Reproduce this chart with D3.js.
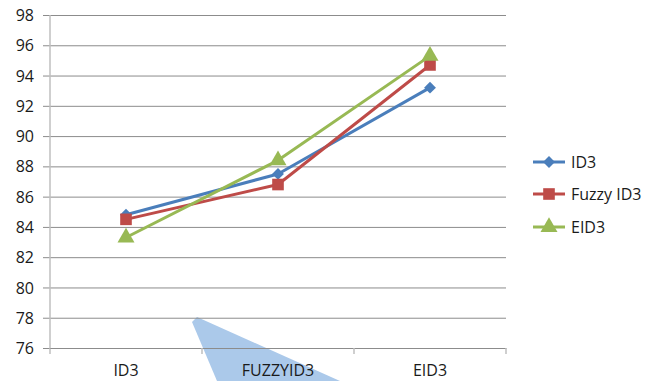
<!DOCTYPE html>
<html>
<head>
<meta charset="utf-8">
<script src="https://cdn.jsdelivr.net/npm/d3@7"></script>
<style>
  html, body { margin: 0; padding: 0; background: #fff; }
  svg { display: block; }
  text { font-family: "Open Sans", "Liberation Sans", Arial, sans-serif; fill: #1a1a1a; }
</style>
</head>
<body>
<svg id="chart" width="654" height="381"></svg>
<script>
// Categories along the x axis
const categories = ["ID3", "FUZZYID3", "EID3"];

// Accuracy (%) per series
const seriesNames = ["ID3", "Fuzzy ID3", "EID3"];
const id3Values = [84.8, 87.5, 93.2];
const fuzzyId3Values = [84.5, 86.8, 94.7];
const eid3Values = [83.3, 88.4, 95.3];

// Y axis ticks
const yTicks = [76, 78, 80, 82, 84, 86, 88, 90, 92, 94, 96, 98];

const series = [
  { name: seriesNames[0], values: id3Values, color: "#4a7ebb", marker: "diamond" },
  { name: seriesNames[1], values: fuzzyId3Values, color: "#be4b48", marker: "square" },
  { name: seriesNames[2], values: eid3Values, color: "#98b954", marker: "triangle" }
];

const FONT = "'Open Sans', 'Liberation Sans', Arial, sans-serif";
const FONT_SIZE = 16;
const svg = d3.select("#chart");
const plot = { left: 50, right: 506, top: 15, bottom: 348 };

const x = d3.scaleBand().domain(categories).range([plot.left, plot.right]).paddingInner(0).paddingOuter(0);
const cx = c => x(c) + x.bandwidth() / 2;
const y = d3.scaleLinear().domain([76, 98]).range([plot.bottom, plot.top]);

// Decorative light blue wedge behind the chart
svg.append("polygon")
  .attr("points", [[192, 322], [197, 317], [340, 381], [217, 381]].map(p => p.join(",")).join(" "))
  .attr("fill", "#abc9ea");

// Horizontal gridlines with tick stubs to the left of the axis
const yAxis = d3.axisLeft(y).tickValues(yTicks).tickSize(-(plot.right - plot.left)).tickSizeOuter(0);
const gy = svg.append("g").attr("transform", `translate(${plot.left},0)`).call(yAxis);
gy.select(".domain").remove();
gy.selectAll(".tick line")
  .attr("x1", -7)
  .attr("stroke", "#8c8c8c")
  .attr("stroke-width", 1);
gy.selectAll(".tick text")
  .attr("font-size", FONT_SIZE)
  .attr("x", -16)
  .attr("dy", "0.35em")
  .style("font-family", FONT)
  .attr("fill", "#1a1a1a");

// Vertical axis line
svg.append("line")
  .attr("x1", plot.left).attr("x2", plot.left)
  .attr("y1", plot.top).attr("y2", plot.bottom + 6)
  .attr("stroke", "#bfbfbf").attr("stroke-width", 1.5);

// Category axis
const xAxis = d3.axisBottom(x).tickSize(0).tickSizeOuter(0);
const gx = svg.append("g").attr("transform", `translate(0,${plot.bottom})`).call(xAxis);
gx.select(".domain").attr("stroke", "#8c8c8c");
gx.selectAll(".tick text")
  .attr("font-size", FONT_SIZE)
  .attr("y", 17)
  .attr("dy", "0.71em")
  .style("font-family", FONT)
  .attr("fill", "#1a1a1a");

// Category boundary ticks
const bounds = categories.map(c => x(c)).concat([plot.right]);
svg.append("g").selectAll("line").data(bounds.slice(1)).join("line")
  .attr("x1", d => d).attr("x2", d => d)
  .attr("y1", plot.bottom).attr("y2", plot.bottom + 6)
  .attr("stroke", "#bfbfbf").attr("stroke-width", 1.5);

// Marker shapes
function markerPath(type) {
  if (type === "diamond") return d3.symbol().type(d3.symbolDiamond2).size(90)();
  if (type === "square") return d3.symbol().type(d3.symbolSquare).size(135)();
  return d3.symbol().type(d3.symbolTriangle).size(125)();
}

const line = d3.line().x(d => cx(d.cat)).y(d => y(d.v));

series.forEach(s => {
  const pts = categories.map((c, i) => ({ cat: c, v: s.values[i] }));
  svg.append("path")
    .datum(pts)
    .attr("d", line)
    .attr("fill", "none")
    .attr("stroke", s.color)
    .attr("stroke-width", 3)
    .attr("stroke-linejoin", "round");
  svg.append("g").selectAll("path").data(pts).join("path")
    .attr("d", markerPath(s.marker))
    .attr("transform", d => `translate(${cx(d.cat)},${y(d.v)})`)
    .attr("fill", s.color);
});

// Legend
const legend = svg.append("g");
const legendY = [162, 194, 227];
series.forEach((s, i) => {
  const g = legend.append("g").attr("transform", `translate(0,${legendY[i]})`);
  g.append("line")
    .attr("x1", 533).attr("x2", 565)
    .attr("stroke", s.color).attr("stroke-width", 3);
  g.append("path")
    .attr("d", markerPath(s.marker))
    .attr("transform", "translate(549,0)")
    .attr("fill", s.color);
  g.append("text")
    .attr("x", 571)
    .attr("dy", "0.35em")
    .attr("font-size", FONT_SIZE)
    .style("font-family", FONT)
    .text(s.name);
});
</script>
</body>
</html>
